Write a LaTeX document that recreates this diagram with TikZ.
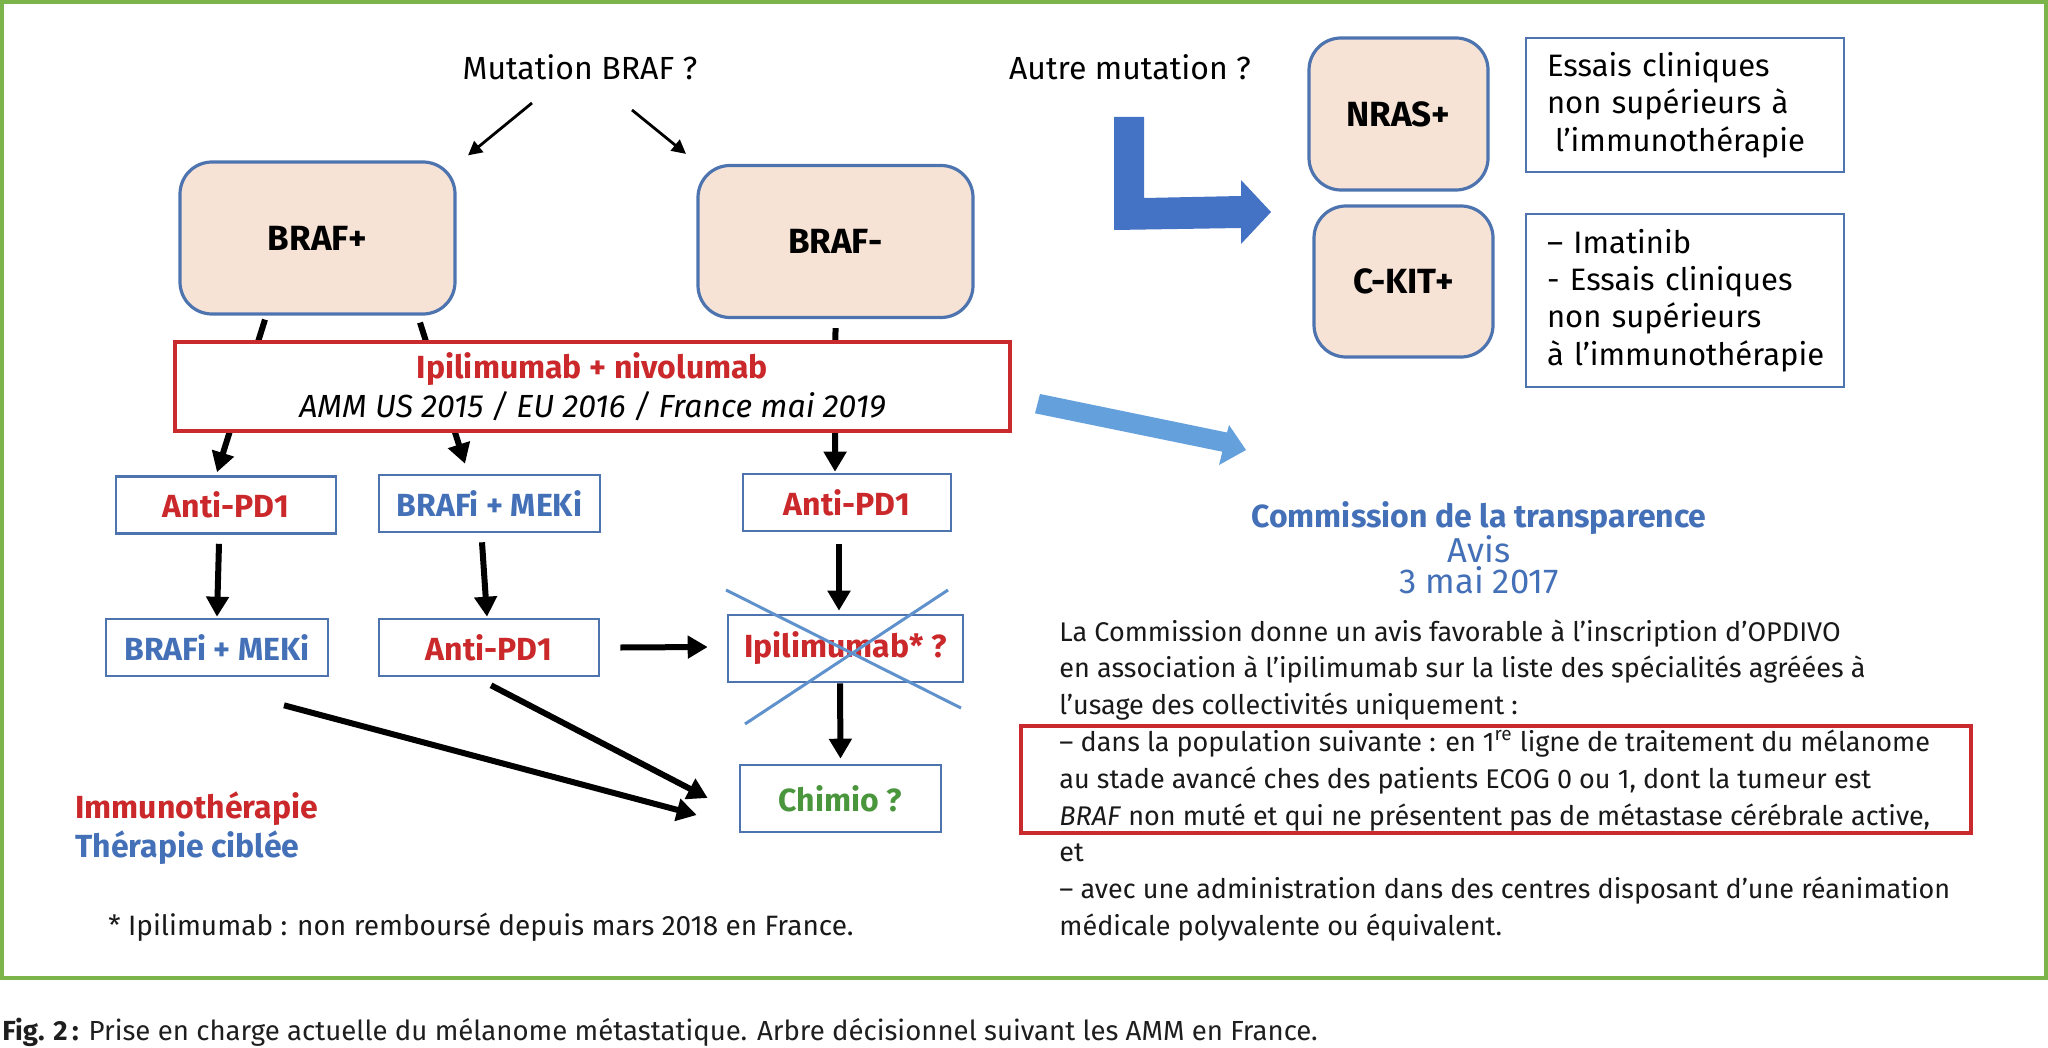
\documentclass[tikz,border=0pt]{standalone}
\usepackage{fontspec}
\setmainfont{Fira Sans}
\usepackage{tikz}
\usetikzlibrary{arrows.meta, positioning, calc}
\definecolor{framegreen}{RGB}{122,180,74}
\definecolor{peach}{RGB}{246,227,214}
\definecolor{edgeblue}{RGB}{78,116,176}
\definecolor{txtred}{RGB}{202,40,42}
\definecolor{redline}{RGB}{200,42,45}
\definecolor{txtblue}{RGB}{68,112,184}
\definecolor{txtgreen}{RGB}{74,150,60}
\definecolor{bigblue}{RGB}{68,114,196}
\definecolor{paleblue}{RGB}{100,160,220}
\definecolor{crossblue}{RGB}{95,145,205}
\definecolor{bodyblack}{RGB}{25,25,25}
\definecolor{capgray}{RGB}{30,30,30}

\begin{document}
\begin{tikzpicture}[x=0.5pt, y=-0.5pt,
    every node/.style={font=\fontsize{16}{19}\selectfont},
    mutbox/.style={draw=edgeblue, line width=1.6pt, fill=peach, rounded corners=16pt, font=\fontsize{17.5}{20}\selectfont\bfseries, minimum height=76pt},
    trtbox/.style={draw=edgeblue, line width=1.3pt, fill=white, font=\fontsize{16}{19}\selectfont\bfseries, minimum height=28.5pt},
    notebox/.style={draw=edgeblue, line width=1.3pt, text width=138pt, inner xsep=10.5pt, inner ysep=0pt, align=left, font=\fontsize{15.5}{18.7}\selectfont},
    flow/.style={-{Triangle[length=10pt,width=11pt]}, line width=3pt},
    pointer/.style={-{Triangle[length=7pt,width=7pt]}, line width=1.4pt},
    parline/.style={anchor=base west, inner sep=0pt, text=bodyblack, font=\fontsize{13.5}{15}\selectfont},
]
    \useasboundingbox (0,0) rectangle (2048,1048);
    \draw[framegreen, line width=2pt] (2,2.5) rectangle (2046,977.5);

    % questions
    \node[anchor=base] (mut) at (580,80) {Mutation BRAF ?};
    \node[anchor=base] (autre) at (1130,80) {Autre mutation ?};

    % BRAF status
    \node[mutbox, minimum width=137.5pt] (brafp) at (317.5,238) {BRAF+};
    \node[mutbox, minimum width=137.5pt] (brafm) at (835.5,241.5) {BRAF-};

    % treatment lines
    \node[trtbox, text=txtred, minimum width=110pt] (apd1a) at (226,505) {Anti-PD1};
    \node[trtbox, text=txtblue, minimum width=110.5pt] (bm1) at (489.5,503.5) {BRAFi + MEKi};
    \node[trtbox, text=txtred, minimum width=104pt] (apd1b) at (847,502.5) {Anti-PD1};
    \node[trtbox, text=txtblue, minimum width=111pt] (bm2) at (217,647.5) {BRAFi + MEKi};
    \node[trtbox, text=txtred, minimum width=110pt] (apd1c) at (489,647.5) {Anti-PD1};
    \node[trtbox, text=txtred, minimum width=117.5pt, minimum height=33.5pt] (ipi) at (845.5,648.5) {Ipilimumab* ?};
    \node[trtbox, text=txtgreen, minimum width=100.5pt, minimum height=33.5pt] (chimio) at (840.5,798.5) {Chimio ?};

    \draw[pointer] ($(mut.base)+(-48,23)$) -- ($(brafp.north)+(150.5,-5)$);
    \draw[pointer] ($(mut.base)+(52,30)$) -- ($(brafm.north)+(-149.5,-10)$);

    \draw[flow] ($(brafp.south)+(-52.5,4)$) -- ($(apd1a.north)+(-9,-3)$);
    \draw[flow] ($(brafp.south)+(102.5,7)$) -- ($(bm1.north)+(-24.5,-10)$);
    \draw[flow] ($(brafm.south)+(0,9)$) -- ($(apd1b.north)+(-12,-1)$);
    \draw[flow] ($(apd1a.south)+(-7,9)$) -- ($(bm2.north)+(0,-1)$);
    \draw[flow] ($(bm1.south)+(-7.5,9)$) -- ($(apd1c.north)+(-2,-1)$);
    \draw[flow] ($(apd1b.south)+(-8,12)$) -- ($(ipi.north)+(-6.5,-3)$);
    \draw[flow] ($(apd1c.east)+(20,0)$) -- ($(ipi.west)+(-19,-1.5)$);
    \draw[flow] ($(ipi.south)+(-5.5,0)$) -- ($(chimio.north)+(0,-5)$);
    \draw[flow] ($(bm2.south)+(67,28)$) -- ($(chimio.west)+(-42,16.5)$);
    \draw[flow] ($(apd1c.south)+(2,8)$) -- ($(chimio.west)+(-31,-0.5)$);

    % combination, over the arrows
    \node[draw=redline, line width=1.6pt, fill=white, minimum width=417.5pt, minimum height=44.5pt, align=center, inner sep=0pt, font=\fontsize{16}{19.5}\selectfont] (combo) at (592.5,386.5)
        {{\bfseries\color{txtred}Ipilimumab + nivolumab}\\{\itshape AMM US 2015 / EU 2016 / France mai 2019}};

    % crossed out
    \draw[crossblue, line width=1.5pt] ($(ipi)+(-119.5,-58.5)$) -- ($(ipi)+(115.5,59.5)$);
    \draw[crossblue, line width=1.5pt] ($(ipi)+(102.5,-58.5)$) -- ($(ipi)+(-100.5,75.5)$);

    % other mutations
    \node[mutbox, minimum width=89.5pt] (nras) at (1398.5,114) {NRAS+};
    \node[mutbox, minimum width=89.5pt, minimum height=75.5pt] (ckit) at (1403.5,281.5) {C-KIT+};
    \node[notebox, minimum height=67pt] (ess1) at (1685,105) {Essais cliniques\\non supérieurs à\\\hspace*{4pt}l’immunothérapie};
    \node[notebox, minimum height=86.5pt] (ess2) at (1685,300.5) {– Imatinib\\- Essais cliniques\\non supérieurs\\à~l’immunothérapie};

    \fill[bigblue] (1114,117) -- (1144,117) -- (1144,198) -- (1241,196) -- (1241,180) -- (1271,212)
        -- (1241,244) -- (1241,228) -- (1114,230) -- cycle;
    \fill[paleblue] (1040,394) -- (1227,432.5) -- (1229,425) -- (1246,450) -- (1219,465)
        -- (1222.3,451.7) -- (1035,413.3) -- cycle;

    % legend
    \node[anchor=base west, inner sep=0pt, text=txtred, font=\fontsize{16}{19}\selectfont\bfseries] (legimmu) at (75,818) {Immunothérapie};
    \node[anchor=base west, inner sep=0pt, text=txtblue, font=\fontsize{16}{19}\selectfont\bfseries] (legcib) at (75,857) {Thérapie ciblée};
    \node[parline, font=\fontsize{14}{16}\selectfont] (note) at (108,935) {* Ipilimumab : non remboursé depuis mars 2018 en France.};

    % avis de la commission
    \node[anchor=base, text=txtblue, font=\fontsize{16}{19}\selectfont\bfseries] (cttitle) at (1479,527) {Commission de la transparence};
    \node[anchor=base, text=txtblue, font=\fontsize{17.3}{20}\selectfont] (ctavis) at (1479,562) {Avis};
    \node[anchor=base, text=txtblue, font=\fontsize{17.3}{20}\selectfont] (ctdate) at (1479,593) {3 mai 2017};

    \foreach \txt [count=\i from 0] in {
        {La Commission donne un avis favorable à l’inscription d’OPDIVO},
        {en association à l’ipilimumab sur la liste des spécialités agréées à},
        {l’usage des collectivités uniquement :},
        {– dans la population suivante : en 1\textsuperscript{re} ligne de traitement du mélanome},
        {au stade avancé ches des patients ECOG 0 ou 1, dont la tumeur est},
        {\textit{BRAF} non muté et qui ne présentent pas de métastase cérébrale active,},
        {et},
        {– avec une administration dans des centres disposant d’une réanimation},
        {médicale polyvalente ou équivalent.}}
        \node[parline] (par\i) at (1059,{641+36.8*\i}) {\txt};
    \draw[redline, line width=1.6pt] (1021,726) rectangle (1971,833);

    \node[parline, text=capgray, font=\fontsize{13.8}{16}\selectfont] (caption) at (2,1040)
        {\textbf{Fig. 2\,:} Prise en charge actuelle du mélanome métastatique. Arbre décisionnel suivant les AMM en France.};
\end{tikzpicture}
\end{document}
